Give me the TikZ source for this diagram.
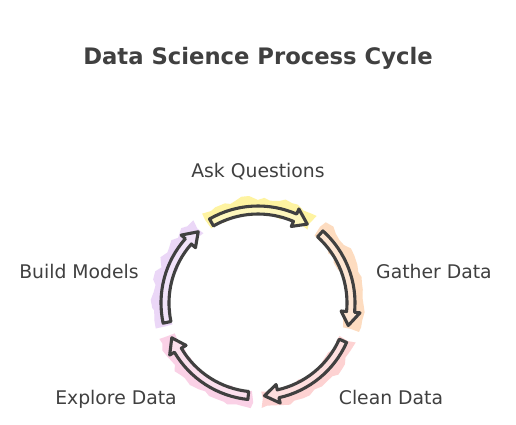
\documentclass[tikz,border=0pt]{standalone}
\usepackage{fontspec}
\setmainfont{DejaVu Sans}
\usetikzlibrary{decorations.pathmorphing}
\definecolor{ink}{HTML}{404040}
\definecolor{cYellow}{HTML}{FEF3A1}
\definecolor{cPeach}{HTML}{FDDCC0}
\definecolor{cSalmon}{HTML}{FDD2D2}
\definecolor{cPink}{HTML}{FAD1E6}
\definecolor{cLav}{HTML}{EBD7F7}
\tikzset{
  arrowline/.style={draw=ink, line width=3.1pt, line join=round},
  patch/.style={decorate, decoration={random steps, segment length=7pt, amplitude=2.5pt}},
  lbl/.style={text=ink, anchor=base, font=\fontsize{18.8}{21}\selectfont, inner sep=0pt},
  ttl/.style={text=ink, anchor=base, font=\bfseries\fontsize{22.7}{25}\selectfont, inner sep=0pt}
}
\def\R{93}
\def\w{4}
\def\h{9.5}
\def\d{8.5}
\newcommand\cycarrow[3]{%
  \pgfmathsetmacro\eb{#2+\d}%
  \fill[#3, patch] (#1+2:\R-5) arc[start angle=#1+2, end angle=#2-2, radius=\R-5]
     -- (#2-2:\R+12) arc[start angle=#2-2, end angle=#1+2, radius=\R+12] -- cycle;
  \filldraw[arrowline, fill=#3!70!white] (#1:\R+\w) arc[start angle=#1, end angle=\eb, radius=\R+\w]
     -- (\eb:\R+\h) -- (#2:\R) -- (\eb:\R-\h) -- (\eb:\R-\w)
     arc[start angle=\eb, end angle=#1, radius=\R-\w] -- cycle;
}
\begin{document}
\begin{tikzpicture}[x=1pt, y=1pt]
\pgfmathsetseed{7}
\useasboundingbox[fill=white] (0,0) rectangle (516,-425);
\node[ttl] (title) at (258,-65) {Data Science Process Cycle};
\begin{scope}[shift={(258,-303)}]
  \cycarrow{120}{58}{cYellow}
  \cycarrow{48}{-14}{cPeach}
  \cycarrow{-24}{-86}{cSalmon}
  \cycarrow{-96}{-158}{cPink}
  \cycarrow{192}{130}{cLav}
\end{scope}
\node[lbl] (ask) at (258,-177) {Ask Questions};
\node[lbl] (gather) at (434,-278) {Gather Data};
\node[lbl] (clean) at (391,-404) {Clean Data};
\node[lbl] (explore) at (116,-404) {Explore Data};
\node[lbl] (build) at (79,-278) {Build Models};
\end{tikzpicture}
\end{document}
